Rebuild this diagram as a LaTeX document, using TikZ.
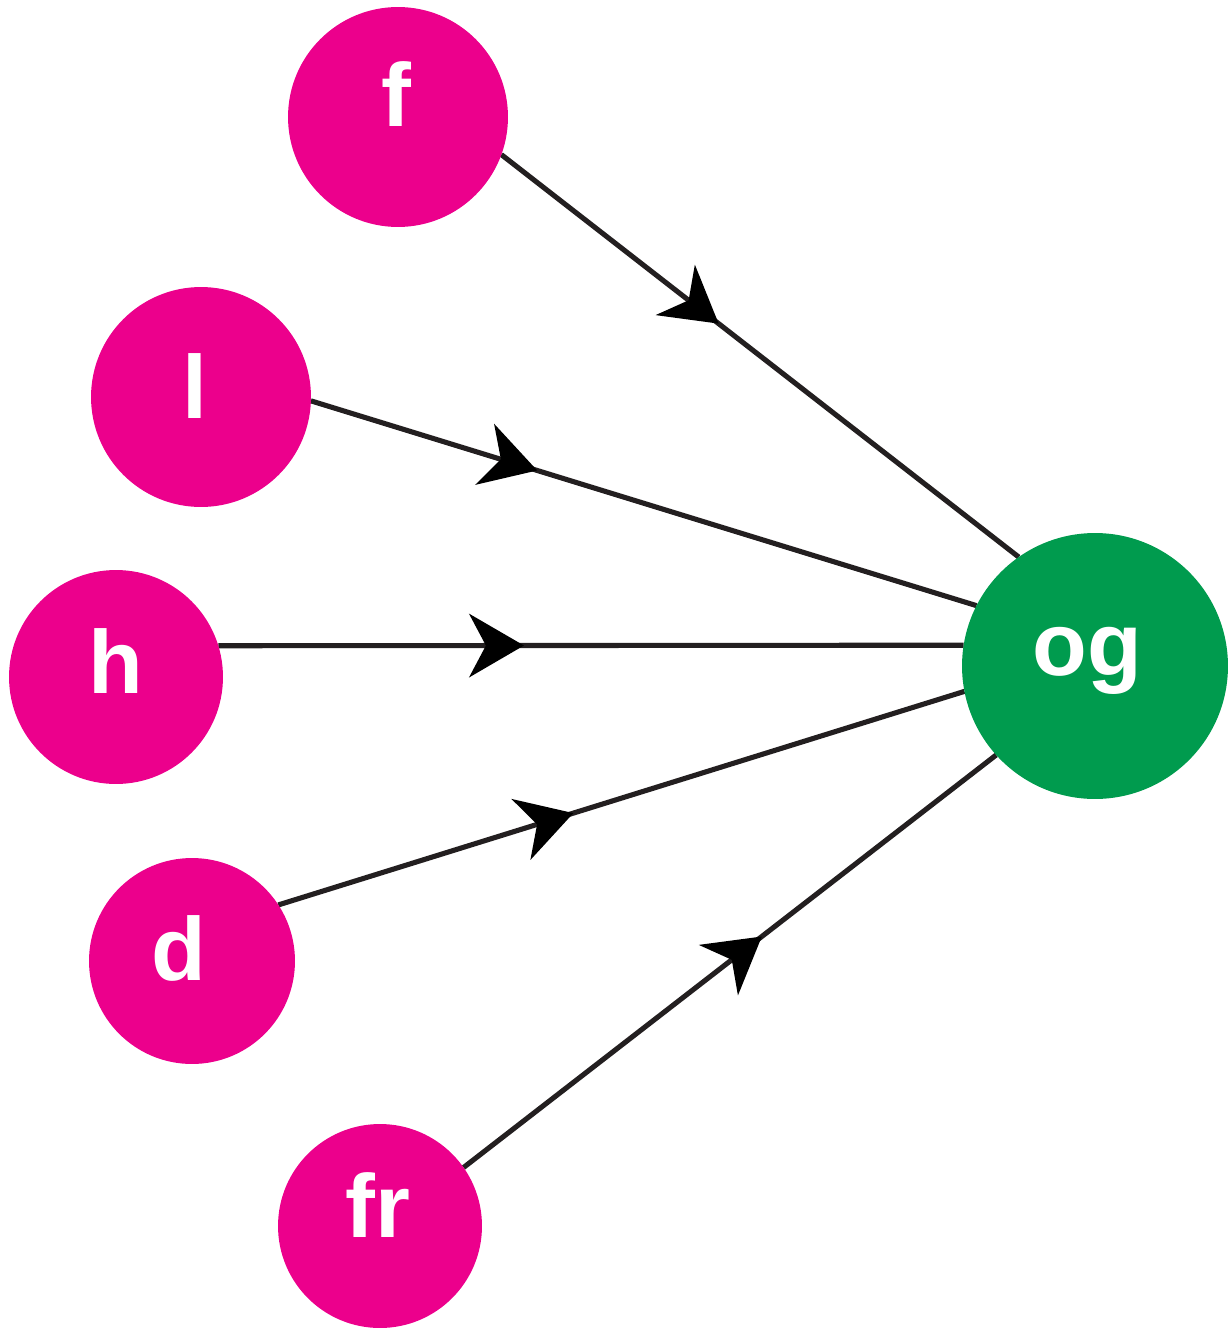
\documentclass[tikz,border=0pt]{standalone}
\usepackage{fontspec}
\setmainfont{Liberation Sans}
\usetikzlibrary{arrows.meta,decorations.markings,backgrounds}
\definecolor{pinkc}{HTML}{EC008C}
\definecolor{greenc}{HTML}{009B4E}
\definecolor{linec}{HTML}{231F20}
\begin{document}
\begin{tikzpicture}[x=0.02cm,y=-0.02cm,
  src/.style={circle,fill=pinkc,draw=none,inner sep=0pt,outer sep=0pt,minimum size=#1},
  dst/.style={circle,fill=greenc,draw=none,inner sep=0pt,outer sep=0pt,minimum size=#1},
  lbl/.style={text=white,font=\fontsize{51}{51}\selectfont\bfseries,anchor=base,inner sep=0pt},
  conn/.style={draw=linec,line width=2.9pt,postaction={decorate},
    decoration={markings,mark=at position #1 with {\arrow{Stealth[length=1.1cm,width=1.28cm,inset=0.34cm,line width=0pt,color=black]}}}}]
\useasboundingbox (0,0) rectangle (1231,1328);
% circles
\node[src=4.4cm]  (f)  at (398,117)  {};
\node[src=4.4cm]  (l)  at (201,397)  {};
\node[src=4.28cm] (h)  at (116,677)  {};
\node[src=4.12cm] (d)  at (192,961)  {};
\node[src=4.08cm] (fr) at (380,1226) {};
\node[dst=5.32cm] (og) at (1095,666) {};
% labels
\node[lbl] (ft)  at (396,127)  {f};
\node[lbl] (lt)  at (195,418)  {l};
\node[lbl] (ht)  at (116,693)  {h};
\node[lbl] (dt)  at (179,980)  {d};
\node[lbl] (frt) at (378,1237) {fr};
\node[lbl] (ogt) at (1087,675) {og};
% connectors
\begin{scope}[on background layer]
\draw[conn=0.42] (f.-20.4) -- (og.125);
\draw[conn=0.34] (l.-2.6) -- (og.153);
\draw[conn=0.41] (h.17.6) -- (og.171.35);
\draw[conn=0.43] (d.33.5) -- (og.191.3);
\draw[conn=0.56] (fr.35.3) -- (og.222.2);
\end{scope}
\end{tikzpicture}
\end{document}
